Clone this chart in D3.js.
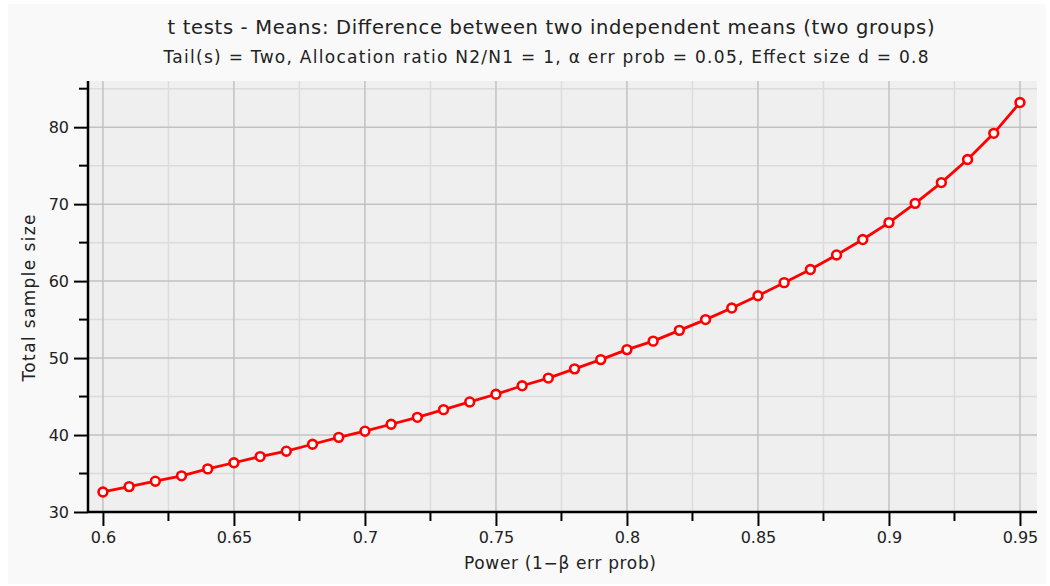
<!DOCTYPE html>
<meta charset="utf-8">
<title>t tests - Means</title>
<script src="https://d3js.org/d3.v7.min.js"></script>
<style>
  body { margin: 0; background: #fff; }
  text { font-family: "DejaVu Sans", sans-serif; fill: #222; }
</style>
<body>
<script>

// power values and total sample size
var power = [0.60, 0.61, 0.62, 0.63, 0.64, 0.65, 0.66, 0.67, 0.68, 0.69,
             0.70, 0.71, 0.72, 0.73, 0.74, 0.75, 0.76, 0.77, 0.78, 0.79,
             0.80, 0.81, 0.82, 0.83, 0.84, 0.85, 0.86, 0.87, 0.88, 0.89,
             0.90, 0.91, 0.92, 0.93, 0.94, 0.95];
var totalN = [32.6, 33.3, 34.0, 34.7, 35.6, 36.4, 37.2, 37.9, 38.8, 39.7,
              40.5, 41.4, 42.3, 43.3, 44.3, 45.3, 46.4, 47.4, 48.6, 49.8,
              51.1, 52.2, 53.6, 55.0, 56.5, 58.1, 59.8, 61.5, 63.4, 65.4,
              67.6, 70.1, 72.8, 75.8, 79.2, 83.2];

var xMajor = [0.6, 0.65, 0.7, 0.75, 0.8, 0.85, 0.9, 0.95];
var xMinor = [0.625, 0.675, 0.725, 0.775, 0.825, 0.875, 0.925];
var yMajor = [30, 40, 50, 60, 70, 80];
var yMinor = [35, 45, 55, 65, 75, 85];

var title = "t tests - Means: Difference between two independent means (two groups)";
var subtitle = "Tail(s) = Two, Allocation ratio N2/N1 = 1, \u03b1 err prob = 0.05, Effect size d = 0.8";

var w = 1050, h = 586;
var pl = 88, pr = 1037, pt = 81, pb = 512;

var svg = d3.select("body").append("svg")
  .attr("width", w).attr("height", h);

// outer panel
svg.append("rect").attr("x", 8).attr("y", 4).attr("width", w - 12).attr("height", h - 6)
  .attr("fill", "#f9f9f9");

var x = d3.scaleLinear().domain([0.5943, 0.9565]).range([pl, pr]);
var y = d3.scaleLinear().domain([30, 86]).range([pb, pt]);

// plot background
svg.append("rect").attr("x", pl).attr("y", pt)
  .attr("width", pr - pl).attr("height", pb - pt)
  .attr("fill", "#efefef");

// grid
var grid = svg.append("g");
grid.selectAll(".vmin").data(xMinor).enter().append("line")
  .attr("x1", d => x(d)).attr("x2", d => x(d)).attr("y1", pt).attr("y2", pb)
  .attr("stroke", "#dcdcdc").attr("stroke-width", 1.5);
grid.selectAll(".hmin").data(yMinor).enter().append("line")
  .attr("x1", pl).attr("x2", pr).attr("y1", d => y(d)).attr("y2", d => y(d))
  .attr("stroke", "#dcdcdc").attr("stroke-width", 1.5);
grid.selectAll(".vmaj").data(xMajor).enter().append("line")
  .attr("x1", d => x(d)).attr("x2", d => x(d)).attr("y1", pt).attr("y2", pb)
  .attr("stroke", "#c2c2c2").attr("stroke-width", 1.5);
grid.selectAll(".hmaj").data(yMajor.slice(1)).enter().append("line")
  .attr("x1", pl).attr("x2", pr).attr("y1", d => y(d)).attr("y2", d => y(d))
  .attr("stroke", "#c2c2c2").attr("stroke-width", 1.5);

// axes
var xAxis = d3.axisBottom(x).tickValues(xMajor).tickSize(14).tickPadding(6)
  .tickFormat(d => String(+d.toFixed(2)));
var gx = svg.append("g").attr("transform", "translate(0," + pb + ")").call(xAxis);
gx.selectAll(".minor").data(xMinor).enter().append("line")
  .attr("x1", d => x(d)).attr("x2", d => x(d)).attr("y1", 0).attr("y2", 9)
  .attr("stroke", "#000").attr("stroke-width", 2);

var yAxis = d3.axisLeft(y).tickValues(yMajor).tickSize(14).tickPadding(5);
var gy = svg.append("g").attr("transform", "translate(" + pl + ",0)").call(yAxis);
gy.selectAll(".minor").data(yMinor).enter().append("line")
  .attr("x1", -9).attr("x2", 0).attr("y1", d => y(d)).attr("y2", d => y(d))
  .attr("stroke", "#000").attr("stroke-width", 2);

gx.select(".domain").attr("d", "M" + pl + ",0H" + pr);
gy.select(".domain").attr("d", "M0," + pt + "V" + pb);
[gx, gy].forEach(function(g) {
  g.select(".domain").attr("stroke", "#000").attr("stroke-width", 2.5);
  g.selectAll(".tick line").attr("stroke", "#000").attr("stroke-width", 2);
  g.selectAll(".tick text").attr("font-size", 16).attr("fill", "#333")
    .attr("font-family", "DejaVu Sans, sans-serif");
});

// line and markers
var pts = power.map((p, i) => [p, totalN[i]]);
svg.append("path").datum(pts)
  .attr("d", d3.line().x(d => x(d[0])).y(d => y(d[1])))
  .attr("fill", "none").attr("stroke", "#ff0000").attr("stroke-width", 2.8);
svg.selectAll(".pt").data(pts).enter().append("circle")
  .attr("cx", d => x(d[0])).attr("cy", d => y(d[1])).attr("r", 4.4)
  .attr("fill", "#fff").attr("stroke", "#ff0000").attr("stroke-width", 2.6);

// texts
svg.append("text").attr("x", 551).attr("y", 34).attr("text-anchor", "middle")
  .attr("font-size", 19.5).attr("textLength", 767).attr("lengthAdjust", "spacing")
  .text(title);
svg.append("text").attr("x", 546).attr("y", 63).attr("text-anchor", "middle")
  .attr("font-size", 17).attr("textLength", 765).attr("lengthAdjust", "spacing")
  .text(subtitle);
svg.append("text").attr("x", 560).attr("y", 569).attr("text-anchor", "middle")
  .attr("font-size", 17).attr("textLength", 192).attr("lengthAdjust", "spacing")
  .text("Power (1\u2212\u03b2 err prob)");
svg.append("text").attr("transform", "translate(35,298) rotate(-90)")
  .attr("text-anchor", "middle").attr("font-size", 17)
  .attr("textLength", 167).attr("lengthAdjust", "spacing")
  .text("Total sample size");

</script>
</body>
